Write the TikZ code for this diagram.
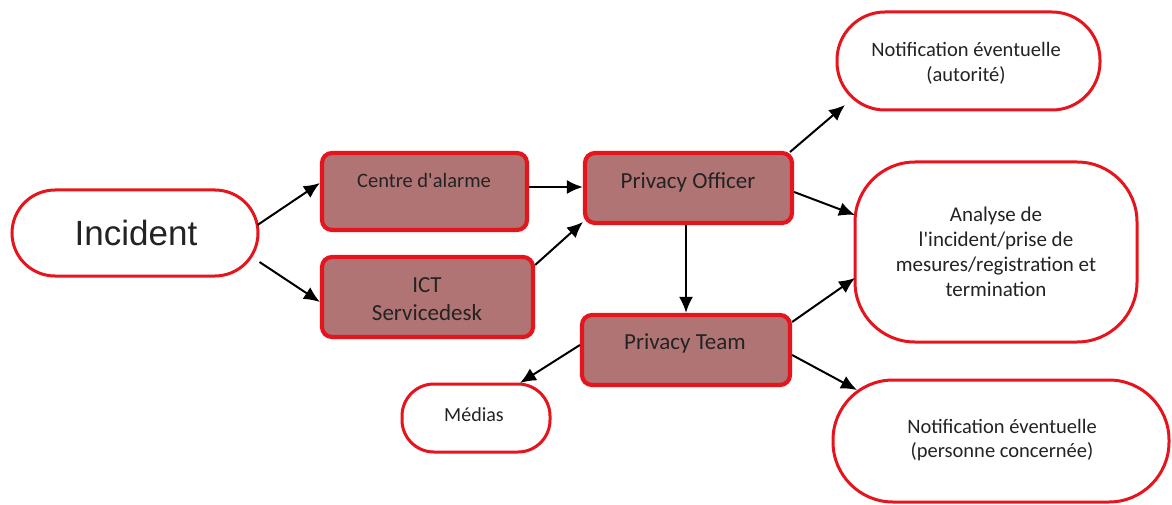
\documentclass[tikz,border=0pt]{standalone}
\usepackage{fontspec}
\setmainfont{Carlito}
\newfontfamily\arialfont{Liberation Sans}
\usetikzlibrary{arrows.meta}
\definecolor{bred}{RGB}{230,20,28}
\definecolor{rose}{RGB}{176,116,116}
\definecolor{txt}{RGB}{35,35,35}
\tikzset{
  filledbox/.style={draw=bred, line width=4.2pt, fill=rose, rounded corners=10pt, inner sep=0pt},
  outbox/.style={draw=bred, line width=3pt, fill=white, inner sep=0pt},
  lbl/.style={text=txt, align=center, inner sep=0pt},
  arr/.style={draw=black, line width=2pt, -{Latex[length=16pt,width=14pt]}}
}
\begin{document}
\begin{tikzpicture}[x=1pt,y=-1pt]
\useasboundingbox (0,0) rectangle (1172,505);
% boxes
\node[outbox, rounded corners=43pt, minimum width=246pt, minimum height=86pt] (inc) at (135,233) {};
\node[text=txt, font=\arialfont\fontsize{35}{40}\selectfont, inner sep=0pt] (inct) at (136,233) {Incident};

\node[filledbox, minimum width=205pt, minimum height=77pt] (ca) at (424.5,191.5) {};
\node[lbl, font=\fontsize{20.5}{24}\selectfont] (cat) at (424,180) {Centre d\textquotesingle alarme};

\node[filledbox, minimum width=211pt, minimum height=80pt] (ict) at (427.5,297) {};
\node[lbl, font=\fontsize{23}{28}\selectfont] (ictt) at (427,299) {ICT\\Servicedesk};

\node[filledbox, minimum width=207pt, minimum height=70pt] (po) at (688.5,188) {};
\node[lbl, font=\fontsize{23}{28}\selectfont] (pot) at (688,182) {Privacy Officer};

\node[filledbox, minimum width=208pt, minimum height=70pt] (pt) at (686,350) {};
\node[lbl, font=\fontsize{23}{28}\selectfont] (ptt) at (685,343) {Privacy Team};

\node[outbox, rounded corners=32pt, minimum width=148pt, minimum height=68pt] (med) at (476,418) {};
\node[lbl, font=\fontsize{20}{24}\selectfont] (medt) at (474,415) {Médias};

\node[outbox, rounded corners=48pt, minimum width=263pt, minimum height=98pt] (na) at (968.5,61) {};
\node[lbl, font=\fontsize{20.5}{25}\selectfont] (nat) at (966,63) {Notification éventuelle\\(autorité)};

\node[outbox, rounded corners=60pt, minimum width=282pt, minimum height=180pt] (an) at (996,252) {};
\node[lbl, font=\fontsize{21}{25}\selectfont] (ant) at (996,252) {Analyse de\\l\textquotesingle incident/prise de\\mesures/registration et\\termination};

\node[outbox, rounded corners=60pt, minimum width=336pt, minimum height=122pt] (np) at (1001,441) {};
\node[lbl, font=\fontsize{20.5}{24}\selectfont] (npt) at (1002,440) {Notification éventuelle\\(personne concernée)};

% arrows
\draw[arr] (inc.east) ++(-2,-8) -- (ca.west |- 0,183);
\draw[arr] (inc.east) ++(0,29) -- (ict.west |- 0,302);
\draw[arr] (ca.east |- 0,187) -- (po.west |- 0,187);
\draw[arr] (ict.east |- 0,265) -- (583,222);
\draw[arr] (pt.north |- po.south) -- (pt.north);
\draw[arr] (790,152) -- (845,105);
\draw[arr] (po.east |- 0,192) -- (855,215);
\draw[arr] (pt.east |- 0,322) -- (855,278);
\draw[arr] (pt.east |- 0,355) -- (857,390);
\draw[arr] (pt.west |- 0,345) -- (520,383);
\end{tikzpicture}
\end{document}
